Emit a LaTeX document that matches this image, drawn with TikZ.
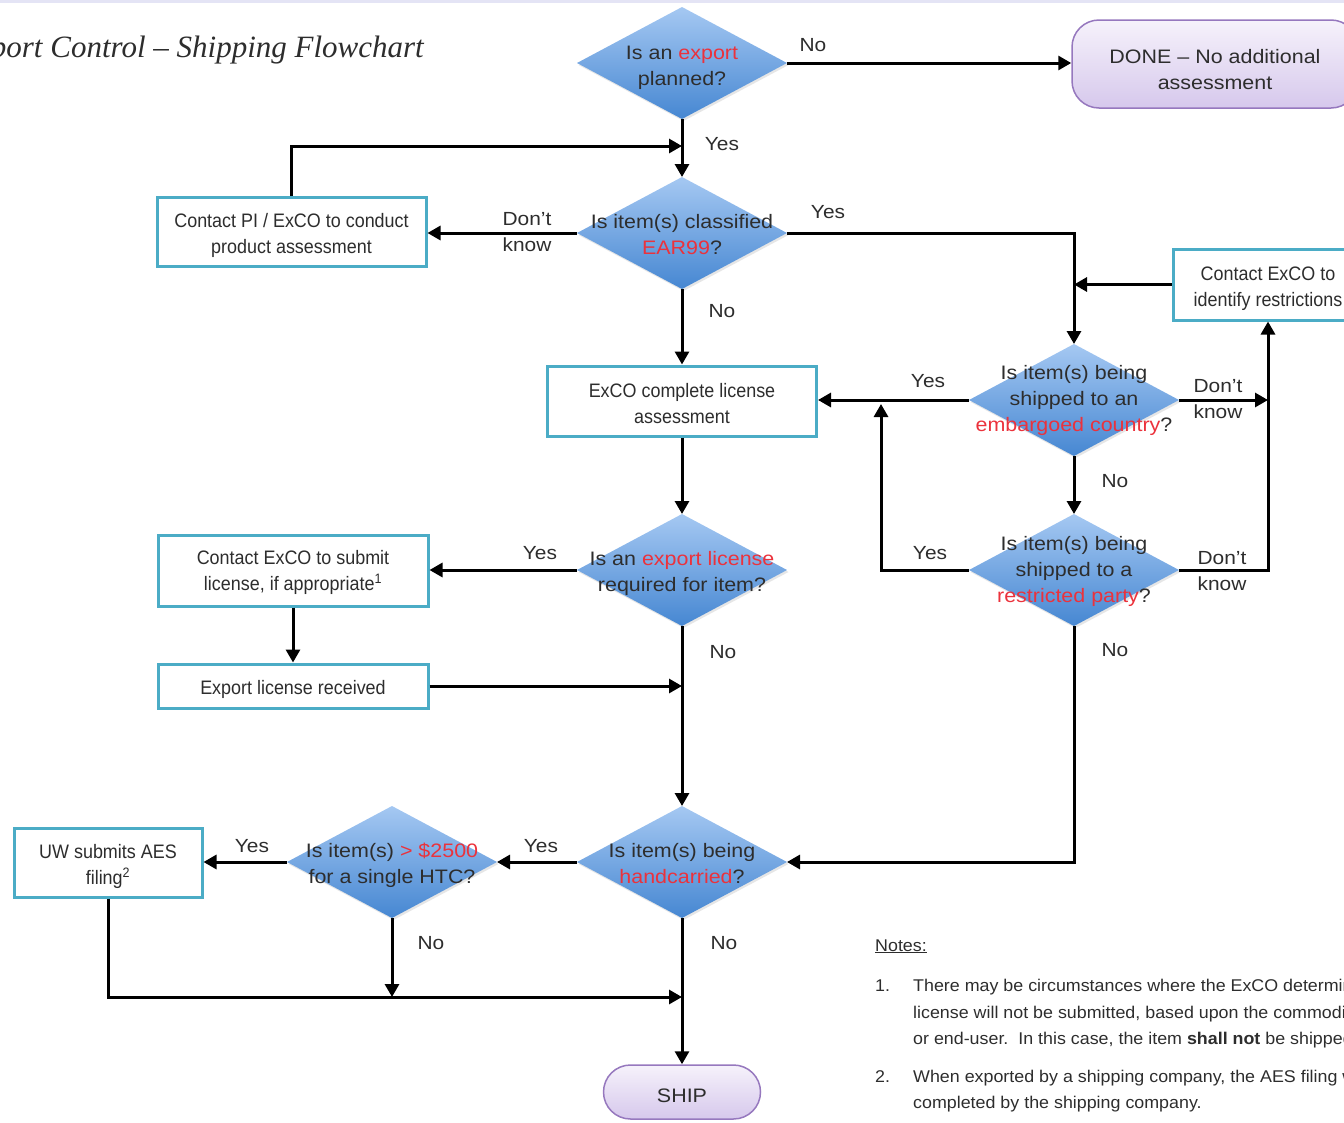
\documentclass[tikz,border=0pt]{standalone}
\usepackage{fontspec}
\usetikzlibrary{shapes.geometric,arrows.meta,shadows}
\newfontfamily\mainsans{Liberation Sans}[FakeStretch=1.1]
\newfontfamily\narrowsans{Liberation Sans}[FakeStretch=0.92]
\newfontfamily\notesans{Liberation Sans}[FakeStretch=1.05]
\newfontfamily\titleserif{Liberation Serif}
\definecolor{txt}{RGB}{45,45,45}
\definecolor{redtxt}{RGB}{235,50,60}
\definecolor{boxline}{RGB}{75,172,198}
\definecolor{dtop}{RGB}{165,200,242}
\definecolor{dbot}{RGB}{70,135,210}
\definecolor{ttop}{RGB}{246,242,251}
\definecolor{tbot}{RGB}{214,200,236}
\definecolor{tline}{RGB}{150,120,190}
\definecolor{strip}{RGB}{228,228,245}
\newcommand{\rd}[1]{\textcolor{redtxt}{#1}}
\begin{document}
\begin{tikzpicture}[x=1pt,y=-1pt,
  dia/.style={diamond, inner sep=0pt, outer sep=0pt, minimum width=210pt, minimum height=112pt,
     top color=dtop, bottom color=dbot, draw=none,
     drop shadow={shadow xshift=1.5pt, shadow yshift=-2pt, opacity=0.2}},
  dtext/.style={align=center, inner sep=0pt, text=txt, font=\mainsans\fontsize{19.5}{26}\selectfont},
  procbox/.style={rectangle, draw=boxline, line width=3pt, fill=white, inner sep=0pt},
  btext/.style={align=center, inner sep=0pt, text=txt, font=\narrowsans\fontsize{19.5}{26}\selectfont},
  term/.style={rectangle, rounded corners=27pt, draw=tline, line width=1.5pt,
     top color=ttop, bottom color=tbot, inner sep=0pt},
  ttext/.style={align=center, inner sep=0pt, text=txt, font=\mainsans\fontsize{19.5}{26}\selectfont},
  lbl/.style={inner sep=0pt, text=txt, align=center, font=\mainsans\fontsize{19}{26}\selectfont},
  notetxt/.style={inner sep=0pt, anchor=base west, text=txt, font=\notesans\fontsize{17}{27}\selectfont},
  conn/.style={line width=3pt, line join=miter, -{Triangle[length=13pt,width=14pt]}}
]
\useasboundingbox (0,0) rectangle (1344,1122);
\clip (0,0) rectangle (1344,1122);
\fill[strip] (0,0) rectangle (1344,3);

% title
\node[anchor=base east, inner sep=0pt, text=txt, font=\titleserif\itshape\fontsize{31}{36}\selectfont] (title) at (424,57) {Export Control – Shipping Flowchart};

% decisions
\node[dia] (d1) at (682,63) {};
\node[dtext] (d1t) at (682,68) {Is an \rd{export}\\planned?};
\node[dia] (d2) at (682,233) {};
\node[dtext] (d2t) at (682,235) {Is item(s) classified\\\rd{EAR99}?};
\node[dia] (d3) at (1074,400) {};
\node[dtext] (d3t) at (1074,400) {Is item(s) being\\shipped to an\\\rd{embargoed country}?};
\node[dia] (d4) at (682,570) {};
\node[dtext] (d4t) at (682,573) {Is an \rd{export license}\\required for item?};
\node[dia] (d5) at (1074,570) {};
\node[dtext] (d5t) at (1074,571.5) {Is item(s) being\\shipped to a\\\rd{restricted party}?};
\node[dia] (d6) at (682,862) {};
\node[dtext] (d6t) at (682,864) {Is item(s) being\\\rd{handcarried}?};
\node[dia] (d7) at (392,862) {};
\node[dtext] (d7t) at (392,865) {Is item(s) \rd{> \$2500}\\for a single HTC?};

% process boxes
\node[procbox, minimum width=269pt, minimum height=69pt] (b1) at (291.5,231.5) {};
\node[btext] (b1t) at (291.5,235.5) {Contact PI / ExCO to conduct\\product assessment};
\node[procbox, minimum width=269pt, minimum height=70pt] (b2) at (682,401) {};
\node[btext] (b2t) at (682,404) {ExCO complete license\\assessment};
\node[procbox, minimum width=190pt, minimum height=71pt] (b3) at (1268,284.5) {};
\node[btext] (b3t) at (1268,288.5) {Contact ExCO to\\identify restrictions};
\node[procbox, minimum width=270pt, minimum height=71pt] (b4) at (293,570.5) {};
\node[btext] (b4t) at (293,572.5) {Contact ExCO to submit\\license, if appropriate\textsuperscript{1}};
\node[procbox, minimum width=270pt, minimum height=44pt] (b5) at (293,686) {};
\node[btext] (b5t) at (293,689) {Export license received};
\node[procbox, minimum width=188pt, minimum height=69pt] (b6) at (108,862.5) {};
\node[btext] (b6t) at (108,866.5) {UW submits AES\\filing\textsuperscript{2}};

% terminals
\node[term, minimum width=286pt, minimum height=88pt] (t1) at (1215,64) {};
\node[ttext] (t1t) at (1215,70) {DONE – No additional\\assessment};
\node[term, minimum width=157pt, minimum height=54pt] (t2) at (682,1092) {};
\node[ttext] (t2t) at (682,1096) {SHIP};

% helper coordinates
\coordinate (j0) at (682,146);
\coordinate (j2) at (881,404);
\coordinate (j4) at (682,997);

% connectors
\draw[conn] (d1.east) -- (d1.east -| t1.west);
\draw[conn] (d1.south) -- (d2.north);
\draw[conn] (b1.north) |- (j0);
\draw[conn] (d2.west) -- (d2.west -| b1.east);
\draw[conn] (d2.east) -| (d3.north);
\draw[conn] (b3.west) -- (b3.west -| d3.north);
\draw[conn] (d2.south) -- (b2.north);
\draw[conn] (d3.west) -- (d3.west -| b2.east);
\draw[conn] (d3.east) -- (d3.east -| b3.south);
\draw[conn] (d3.south) -- (d5.north);
\draw[conn] (d5.west) -| (j2);
\draw[conn] (d5.east) -| (b3.south);
\draw[conn] (d5.south) |- (d6.east);
\draw[conn] (b2.south) -- (d4.north);
\draw[conn] (d4.west) -- (d4.west -| b4.east);
\draw[conn] (b4.south) -- (b5.north);
\draw[conn] (b5.east) -- (b5.east -| d4.south);
\draw[conn] (d4.south) -- (d6.north);
\draw[conn] (d6.west) -- (d7.east);
\draw[conn] (d7.west) -- (d7.west -| b6.east);
\draw[conn] (d7.south) -- (d7.south |- j4);
\draw[conn] (b6.south) |- (j4);
\draw[conn] (d6.south) -- (t2.north);

% connector labels
\node[lbl] (l1) at (813,45) {No};
\node[lbl] (l2) at (722,144) {Yes};
\node[lbl] (l3) at (527,232) {Don’t\\know};
\node[lbl] (l4) at (828,212) {Yes};
\node[lbl] (l5) at (722,311) {No};
\node[lbl] (l6) at (928,381) {Yes};
\node[lbl] (l7) at (1218,399) {Don’t\\know};
\node[lbl] (l8) at (1115,481) {No};
\node[lbl] (l9) at (540,553) {Yes};
\node[lbl] (l10) at (723,652) {No};
\node[lbl] (l11) at (930,553) {Yes};
\node[lbl] (l12) at (1222,571) {Don’t\\know};
\node[lbl] (l13) at (1115,650) {No};
\node[lbl] (l14) at (541,846) {Yes};
\node[lbl] (l15) at (724,943) {No};
\node[lbl] (l16) at (252,846) {Yes};
\node[lbl] (l17) at (431,943) {No};

% notes
\node[notetxt] (n0) at (875,951) {\underline{Notes:}};
\node[notetxt] (n1a) at (875,991) {1.};
\node[notetxt] (n1) at (913,991) {There may be circumstances where the ExCO determines};
\node[notetxt] (n2) at (913,1018) {license will not be submitted, based upon the commodity};
\node[notetxt] (n3) at (913,1044) {or end-user.\ \ In this case, the item \textbf{shall not} be shipped.};
\node[notetxt] (n4a) at (875,1082) {2.};
\node[notetxt] (n4) at (913,1082) {When exported by a shipping company, the AES filing will};
\node[notetxt] (n5) at (913,1108) {completed by the shipping company.};
\end{tikzpicture}
\end{document}
